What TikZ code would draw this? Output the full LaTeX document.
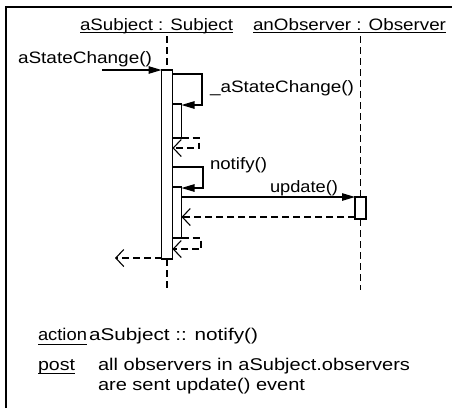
\documentclass[tikz,border=0pt]{standalone}
\usepackage{fontspec}
\setmainfont{Liberation Sans}
\usetikzlibrary{arrows.meta}
\newcommand\fitw[2]{\resizebox{#1}{\height}{#2}}
\begin{document}
\begin{tikzpicture}[x=1pt,y=-1pt,
  every node/.style={inner sep=0pt, outer sep=0pt},
  lbl/.style={anchor=base west, font=\fontsize{16.5}{19}\selectfont},
  note/.style={anchor=base west, font=\fontsize{17}{20}\selectfont},
  actbox/.style={draw, fill=white, line width=1.1pt, minimum width=#1},
  call/.style={line width=1.1pt, -{Triangle[length=13pt,width=7.5pt]}},
  ret/.style={line width=1.1pt, dash pattern=on 7pt off 4pt, -{Straight Barb[length=8pt,width=17pt]}},
  lifeline/.style={line width=1.1pt, dash pattern=on 7pt off 4pt},
  uline/.style={line width=1pt}]
\useasboundingbox (0,0) rectangle (454,408);
% frame
\draw[line width=1.6pt] (6,408) -- (6,7) -- (452,7);
% titles
\node[lbl] (t1) at (80,30) {\fitw{153pt}{aSubject : Subject}};
\node[lbl] (t2) at (253,30) {\fitw{193pt}{anObserver : Observer}};
\draw[uline] ([yshift=-2.5pt]t1.base west) -- ([yshift=-2.5pt]t1.base east);
\draw[uline] ([yshift=-2.5pt]t2.base west) -- ([yshift=-2.5pt]t2.base east);
% lifeline ends
\coordinate (l1top) at (167,36);
\coordinate (l1bot) at (167,290);
\coordinate (l2top) at (360.5,36);
\coordinate (l2bot) at (360.5,290);
% activation boxes
\node[actbox=11pt, minimum height=189pt] (main) at (167,164.5) {};
\node[actbox=11pt, minimum height=22pt] (obs) at (360.5,208) {};
\draw[lifeline] (l1top) -- (main.north);
\draw[lifeline] (main.south) -- (l1bot);
\draw[lifeline] (l2top) -- (obs.north);
\draw[lifeline] (obs.south) -- (l2bot);
\node[actbox=9pt, minimum height=34pt] (in1) at (177,121) {};
\node[actbox=9pt, minimum height=51pt] (in2) at (177,212.5) {};
% incoming message
\node[lbl] (m0) at (18,63) {\fitw{134pt}{aStateChange()}};
\coordinate (c0) at (102,70);
\draw[call] (c0) -- (main.north west);
% self call 1
\node[lbl] (m1) at (210,92) {\fitw{144pt}{\_aStateChange()}};
\coordinate (k1) at (172.5,74);
\coordinate (k1e) at ([yshift=-1pt]in1.north east);
\draw[call] (k1) -- (202,74) |- (k1e);
\coordinate (k1r) at (172.5,148);
\draw[ret] (in1.south east) -- (199,138) |- (k1r);
% self call 2
\node[lbl] (m2) at (210,169) {\fitw{57pt}{notify()}};
\coordinate (k2) at (172.5,167);
\coordinate (k2e) at ([yshift=-1pt]in2.north east);
\draw[call] (k2) -- (203,167) |- (k2e);
% update
\node[lbl] (m3) at (270,192) {\fitw{68pt}{update()}};
\coordinate (u0) at (181.5,197);
\draw[call] (u0) -- (obs.north west);
\coordinate (r2) at ([yshift=2pt]obs.south west);
\coordinate (r2e) at (181.5,217);
\draw[ret] (r2) -- (r2e);
\coordinate (k3r) at (172.5,249);
\draw[ret] (in2.south east) -- (201,238) |- (k3r);
% final return
\coordinate (f0) at ([yshift=1pt]main.south west);
\coordinate (f1) at (115,258);
\draw[ret] (f0) -- (f1);
% note text
\node[note] (n1) at (38,340) {\fitw{49pt}{action}};
\node[note] (n2) at (89,340) {\fitw{169pt}{aSubject :: notify()}};
\node[note] (n3) at (38,370) {\fitw{37pt}{post}};
\node[note] (n4) at (98,370) {\fitw{312pt}{all observers in aSubject.observers}};
\node[note] (n5) at (98,390) {\fitw{207pt}{are sent update() event}};
\draw[uline] ([yshift=-4pt]n1.base west) -- ([yshift=-4pt]n1.base east);
\draw[uline] ([yshift=-3.5pt]n3.base west) -- ([yshift=-3.5pt]n3.base east);
\end{tikzpicture}
\end{document}
